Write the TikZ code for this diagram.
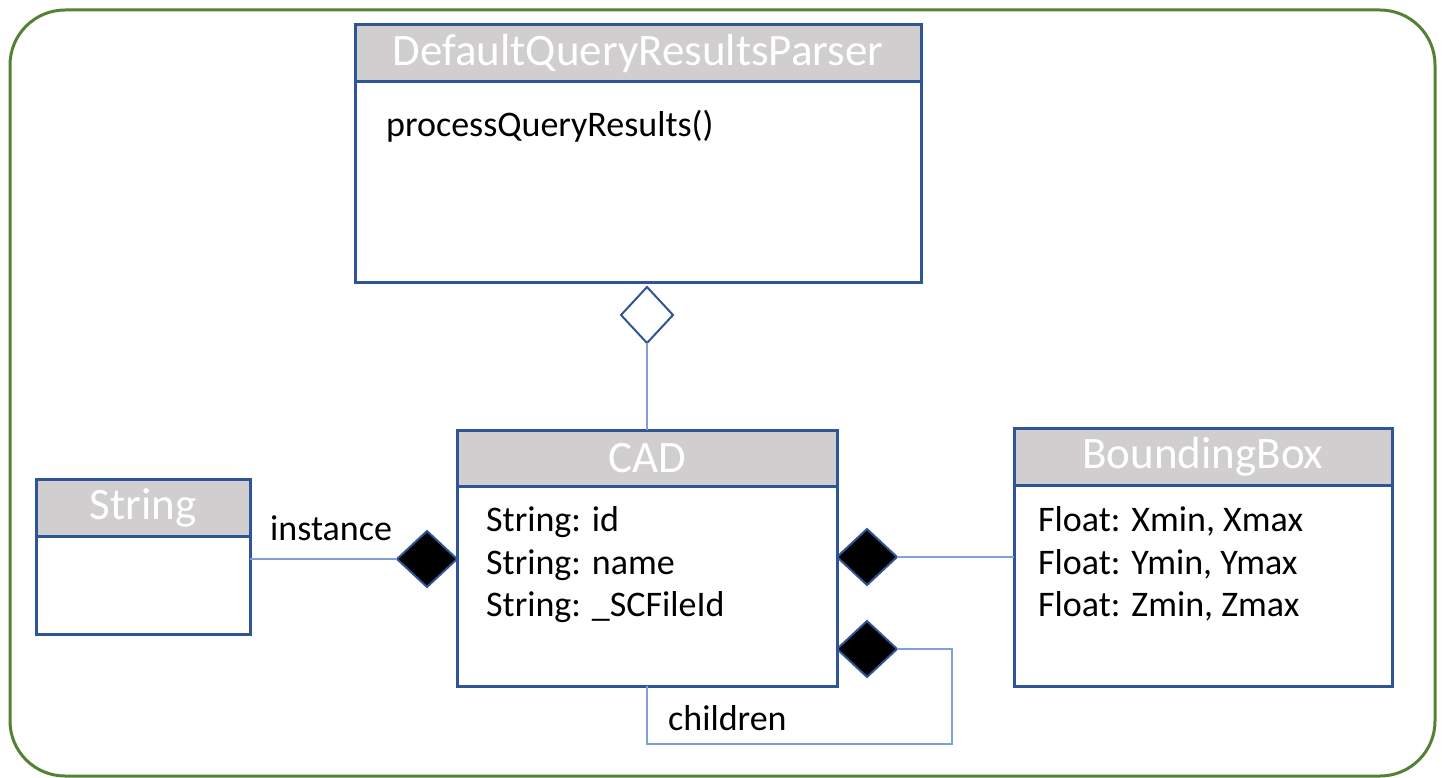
\documentclass[tikz,border=0pt]{standalone}
\usepackage{fontspec}
\setmainfont{Carlito}
\usetikzlibrary{shapes.geometric}
\definecolor{frameGreen}{RGB}{84,130,53}
\definecolor{boxBlue}{RGB}{47,85,151}
\definecolor{linkBlue}{RGB}{130,160,215}
\definecolor{hdrGrey}{RGB}{208,206,206}
\begin{document}
\begin{tikzpicture}[x=1pt,y=-1pt,
  hdr/.style={draw=boxBlue, line width=3pt, fill=hdrGrey, text=white,
    font=\fontsize{45}{48}\selectfont, anchor=north west, inner sep=0pt, outer sep=0pt},
  bodybox/.style={draw=boxBlue, line width=3pt, fill=white, anchor=north west,
    inner sep=0pt, outer sep=0pt},
  attr/.style={font=\fontsize{36}{40}\selectfont, anchor=base west, inner sep=0pt},
  comp/.style={diamond, draw=boxBlue, line width=2pt, fill=black, inner sep=0pt,
    outer sep=0pt, minimum width=60pt, minimum height=56pt},
  aggr/.style={comp, fill=white, minimum width=52pt},
  link/.style={draw=linkBlue, line width=1.5pt}]
\useasboundingbox (0,0) rectangle (1442,778);
% outer frame
\draw[frameGreen, line width=3pt, rounded corners=55pt] (10,10) rectangle (1435,776);

% DefaultQueryResultsParser
\node[hdr, minimum width=566pt, minimum height=57pt] (dqrpH) at (355,25) {DefaultQueryResultsParser};
\node[bodybox, minimum width=566pt, minimum height=200pt] (dqrpB) at (dqrpH.south west) {};
\node[attr] (dqrpM) at (386,137) {processQueryResults()};

% CAD
\node[hdr, minimum width=380pt, minimum height=56pt] (cadH) at (457,430) {CAD};
\node[bodybox, minimum width=380pt, minimum height=200pt] (cadB) at (cadH.south west) {};
\node[attr] (cadA1) at (486,531) {String: id};
\node[attr] (cadA2) at (486,574) {String: name};
\node[attr] (cadA3) at (486,616) {String: \_SCFileId};

% String
\node[hdr, minimum width=214pt, minimum height=57pt] (strH) at (36,479) {String};
\node[bodybox, minimum width=214pt, minimum height=98pt] (strB) at (strH.south west) {};

% BoundingBox
\node[hdr, minimum width=378pt, minimum height=57pt] (bbH) at (1014,428) {BoundingBox};
\node[bodybox, minimum width=378pt, minimum height=201pt] (bbB) at (bbH.south west) {};
\node[attr] (bbA1) at (1038,531) {Float: Xmin, Xmax};
\node[attr] (bbA2) at (1038,574) {Float: Ymin, Ymax};
\node[attr] (bbA3) at (1038,616) {Float: Zmin, Zmax};

% association ends
\node[aggr] (dAgg) at (647,315) {};
\node[comp] (dInst) at (427,559) {};
\node[comp] (dBB) at (867,557) {};
\node[comp] (dKids) at (867,649) {};
\coordinate (kidCorner) at (952,744);

% connectors
\draw[link] (dAgg.south) -- (dAgg.south |- cadH.north);
\draw[link] (dInst.west) -- (dInst.west -| strB.east);
\draw[link] (dBB.east) -- (dBB.east -| bbB.west);
\draw[link] (dKids.east) -| (kidCorner) -| (cadB.south);

% role labels
\node[attr] (lInst) at (270,540) {instance};
\node[attr] (lKids) at (668,730) {children};
\end{tikzpicture}
\end{document}
